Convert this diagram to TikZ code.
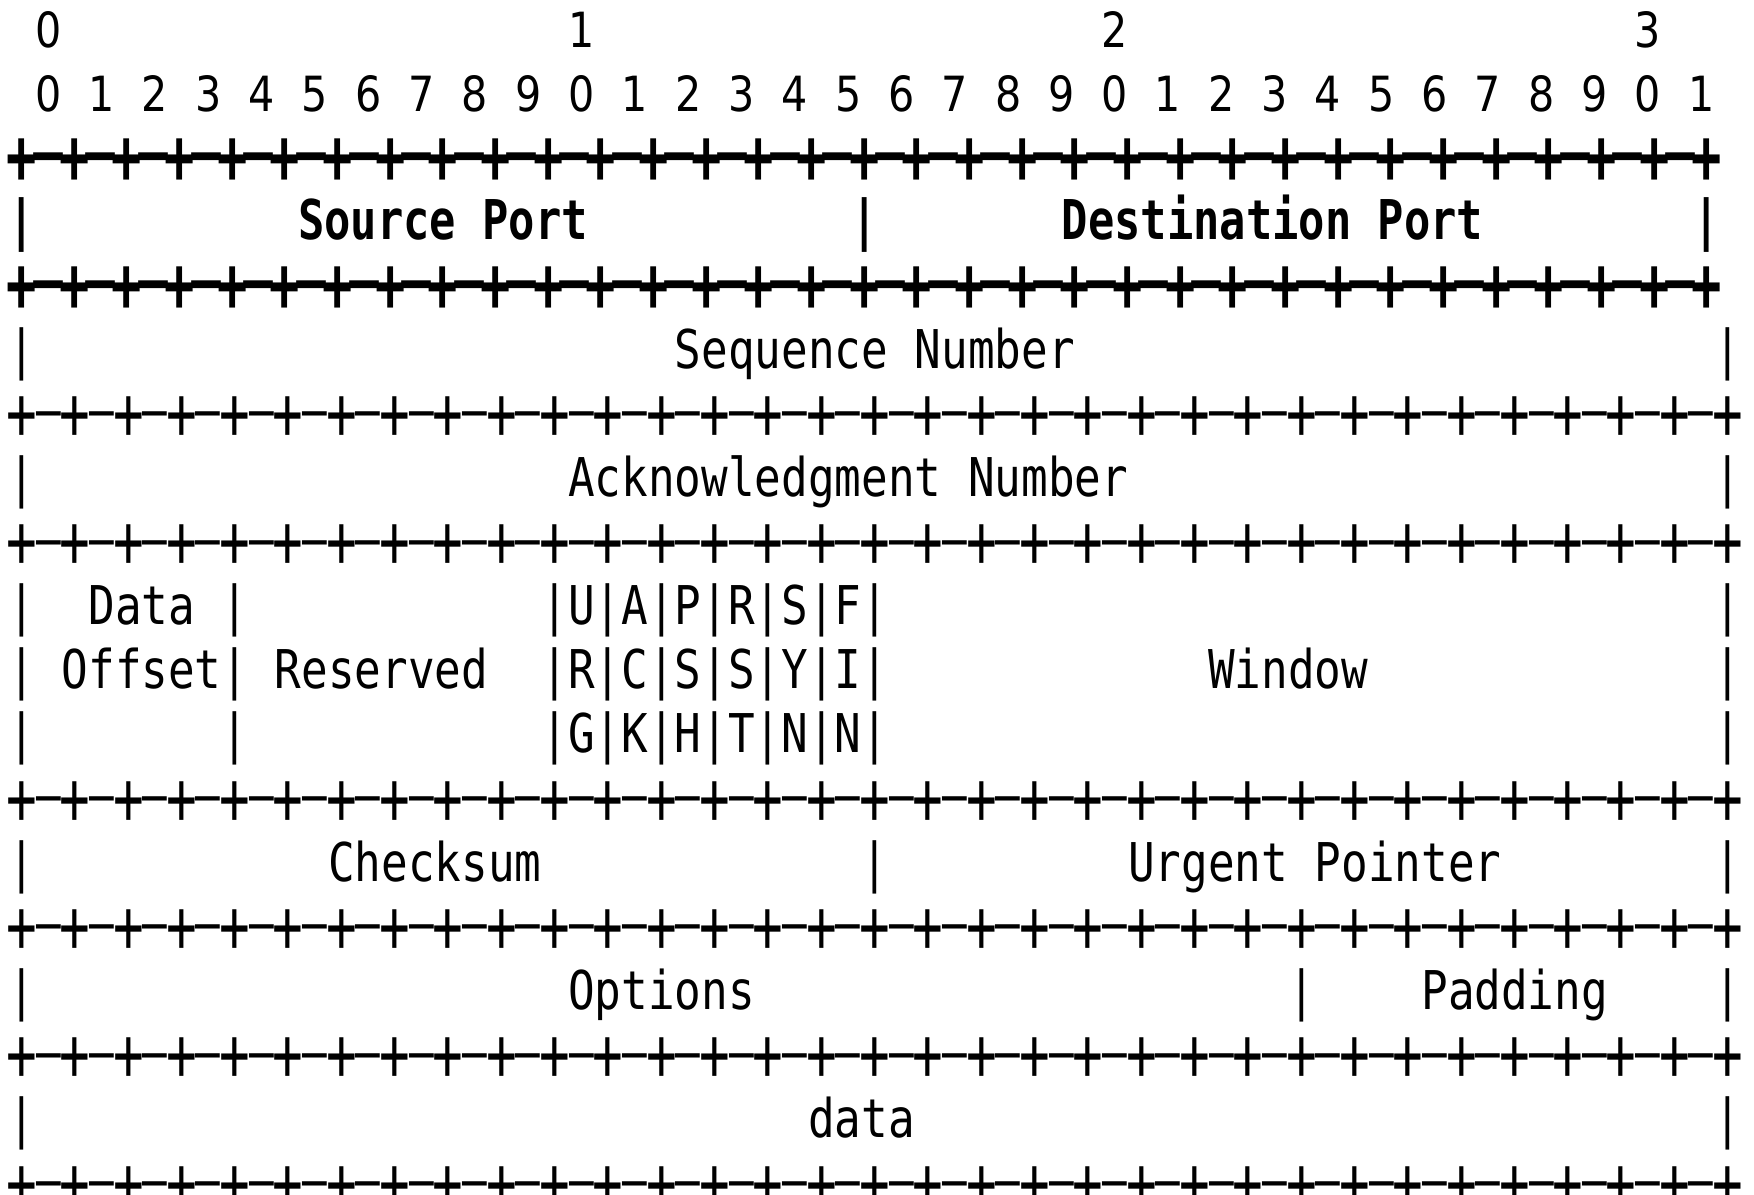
\documentclass[tikz,border=0pt]{standalone}
\usepackage{fontspec}
\usetikzlibrary{positioning}

\newfontfamily\asciifont[FakeStretch=0.829]{DejaVu Sans Mono}
\newfontfamily\asciihead[FakeStretch=0.798]{DejaVu Sans Mono}
\newfontfamily\digitface[FakeStretch=0.85]{DejaVu Sans}

\newcommand{\bodyfont}{\asciifont\fontsize{15.2pt}{15.2pt}\selectfont}
\newcommand{\headfont}{\asciihead\bfseries\fontsize{15.6pt}{15.6pt}\selectfont}
\newcommand{\digitfont}{\digitface\fontsize{13.8pt}{13.8pt}\selectfont}

% one cell of a +-+- rule
\newcommand{\pluscell}{\scalebox{1.15}[1.4]{+}}
\newcommand{\dashcell}{\raisebox{0.2em}{\scalebox{2.2}[1]{-}}}

\begin{document}
\begin{tikzpicture}[
    x=2.666mm, y=-6.415mm,
    txt/.style={inner sep=0pt, outer sep=0pt, anchor=base west, yshift=-1.9mm, font=\bodyfont},
    chr/.style={txt, anchor=base},
    head/.style={txt, font=\headfont},
    headchr/.style={chr, font=\headfont},
    digit/.style={chr, font=\digitfont},
    rule/.style={chr, yshift=-0.72mm},
    headrule/.style={headchr, yshift=-0.79mm}
]
\useasboundingbox (-2.17mm,2.83mm) rectangle (173.23mm,-116.67mm);

% bit numbers
\foreach \c/\d in {1/0, 21/1, 41/2, 61/3}
  \node[digit] (dec\d) at (\c,0) {\d};
\foreach \k in {0,...,31} {
  \pgfmathtruncatemacro{\d}{mod(\k,10)}
  \node[digit] (bit\k) at (2*\k+1,1) {\d};
}

% first word, bold and a little narrower
\begin{scope}[x=2.633mm]
  \foreach \r in {2,4} {
    \foreach \c in {0,2,...,64} \node[headrule] (p\r-\c) at (\c,\r) {\pluscell};
    \foreach \c in {1,3,...,63} \node[headrule] (m\r-\c) at (\c,\r) {\dashcell};
  }
  \foreach \c in {0,32,64} \node[headchr] (v3-\c) at (\c,3) {|};
  \node[head] (srcport) at (10.5,3) {Source Port};
  \node[head] (dstport) at (39.5,3) {Destination Port};
\end{scope}

% +-+- rules
\foreach \r in {6,8,12,14,16,18} {
  \foreach \c in {0,2,...,64} \node[rule] (p\r-\c) at (\c,\r) {\pluscell};
  \foreach \c in {1,3,...,63} \node[rule] (m\r-\c) at (\c,\r) {\dashcell};
}

% field borders
\foreach \r/\cols in {5/{0,64}, 7/{0,64},
    9/{0,8,20,22,24,26,28,30,32,64}, 10/{0,8,20,22,24,26,28,30,32,64},
    11/{0,8,20,22,24,26,28,30,32,64}, 13/{0,32,64}, 15/{0,48,64}, 17/{0,64}} {
  \foreach \c in \cols \node[chr] (v\r-\c) at (\c,\r) {|};
}

% control bits
\foreach \r/\flags in {9/{U,A,P,R,S,F}, 10/{R,C,S,S,Y,I}, 11/{G,K,H,T,N,N}} {
  \foreach \f [count=\i] in \flags
    \node[chr] (flag\r-\i) at (19+2*\i,\r) {\f};
}

% field names
\node[txt] (seqnum) at (24.5,5) {Sequence Number};
\node[txt] (acknum) at (20.5,7) {Acknowledgment Number};
\node[txt] (dataoff) at (2.5,9) {Data};
\node[txt] (offset) at (1.5,10) {Offset};
\node[txt] (reserved) at (9.5,10) {Reserved};
\node[txt] (window) at (44.5,10) {Window};
\node[txt] (checksum) at (11.5,13) {Checksum};
\node[txt] (urgent) at (41.5,13) {Urgent Pointer};
\node[txt] (options) at (20.5,15) {Options};
\node[txt] (padding) at (52.5,15) {Padding};
\node[txt] (payload) at (29.5,17) {data};

\end{tikzpicture}
\end{document}
